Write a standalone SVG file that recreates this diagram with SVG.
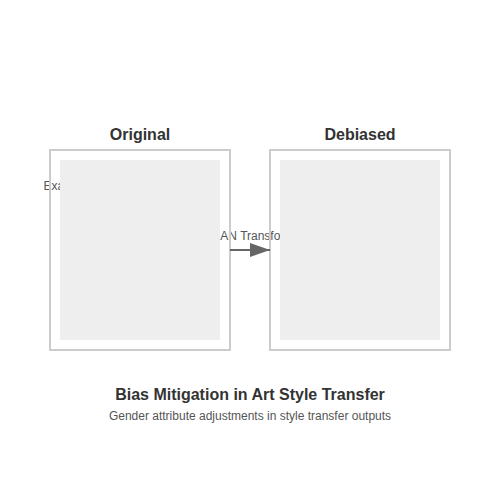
<svg xmlns="http://www.w3.org/2000/svg" width="500" height="500" viewBox="0 0 500 500">
<style>
.frame{fill:none;stroke:#ccc;stroke-width:2}
.img{fill:#eee}
.head{font-family:"Liberation Sans",Arial,sans-serif;font-size:16px;font-weight:bold;fill:#333;text-anchor:middle}
.lbl{font-family:"Liberation Sans",Arial,sans-serif;font-size:12px;fill:#555}
.sub{font-family:"Liberation Sans",Arial,sans-serif;font-size:12px;fill:#555;text-anchor:middle}
</style>
<defs>
<marker id="arr" markerWidth="10" markerHeight="7" refX="10" refY="3.5" orient="auto" markerUnits="strokeWidth">
<polygon points="0 0, 10 3.5, 0 7" fill="#666"/>
</marker>
</defs>
<rect width="500" height="500" fill="#fff"/>
<text class="lbl" x="43.5" y="190">Example</text>
<text class="lbl" x="252.7" y="240" text-anchor="middle">GAN Transform</text>
<g id="original">
<text class="head" x="140" y="140">Original</text>
<rect class="frame" x="50" y="150" width="180" height="200"/>
<rect class="img" x="60" y="160" width="160" height="180"/>
</g>
<g id="debiased">
<text class="head" x="360" y="140">Debiased</text>
<rect class="frame" x="270" y="150" width="180" height="200"/>
<rect class="img" x="280" y="160" width="160" height="180"/>
</g>
<g id="connectors">
<line x1="230" y1="250" x2="270" y2="250" stroke="#666" stroke-width="2" marker-end="url(#arr)"/>
</g>
<g id="caption">
<text class="head" x="250" y="400">Bias Mitigation in Art Style Transfer</text>
<text class="sub" x="250" y="420">Gender attribute adjustments in style transfer outputs</text>
</g>
</svg>
